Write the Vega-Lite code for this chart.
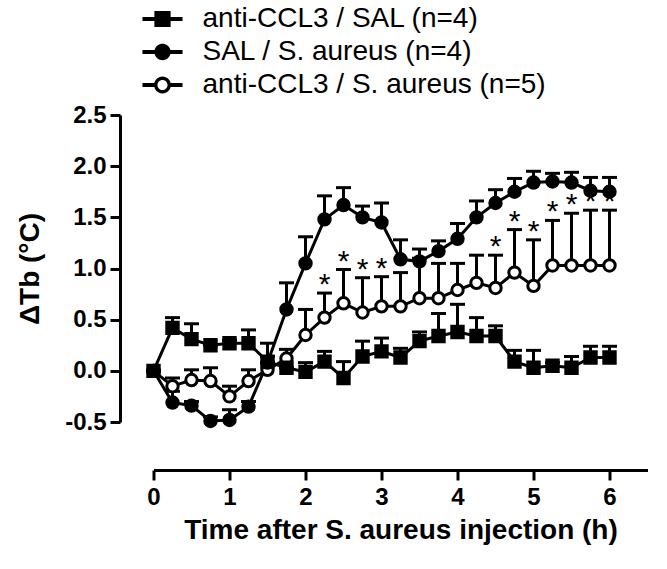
{
  "$schema": "https://vega.github.io/schema/vega-lite/v6.json",
  "width": 494,
  "height": 307,
  "autosize": {"type": "none"},
  "padding": {"left": 153.5, "top": 115, "right": 19.5, "bottom": 147},
  "background": "white",
  "config": {
    "view": {"stroke": null},
    "font": "Arial, Liberation Sans, sans-serif",
    "axis": {
      "grid": false,
      "domainColor": "black",
      "domainWidth": 3,
      "tickColor": "black",
      "tickWidth": 3,
      "tickSize": 10,
      "labelColor": "black",
      "labelFont": "Arial, Liberation Sans, sans-serif",
      "labelFontSize": 24,
      "labelFontWeight": "bold",
      "titleColor": "black",
      "titleFont": "Arial, Liberation Sans, sans-serif",
      "titleFontSize": 28,
      "titleFontWeight": "bold"
    },
    "axisX": {"offset": 48, "labelPadding": 5, "titlePadding": 7, "labelFlush": false},
    "axisY": {"offset": 33.5, "labelPadding": 4, "titlePadding": 20, "labelFlush": false}
  },
  "data": {
    "values": [
      {"t": 0, "group": "anti-CCL3 / S. aureus (n=5)", "mean": 0, "upper": 0, "sig": ""},
      {"t": 0.25, "group": "anti-CCL3 / S. aureus (n=5)", "mean": -0.15, "upper": -0.07, "sig": ""},
      {"t": 0.5, "group": "anti-CCL3 / S. aureus (n=5)", "mean": -0.09, "upper": 0.01, "sig": ""},
      {"t": 0.75, "group": "anti-CCL3 / S. aureus (n=5)", "mean": -0.1, "upper": 0.03, "sig": ""},
      {"t": 1, "group": "anti-CCL3 / S. aureus (n=5)", "mean": -0.25, "upper": -0.15, "sig": ""},
      {"t": 1.25, "group": "anti-CCL3 / S. aureus (n=5)", "mean": -0.1, "upper": 0.01, "sig": ""},
      {"t": 1.5, "group": "anti-CCL3 / S. aureus (n=5)", "mean": 0.01, "upper": 0.08, "sig": ""},
      {"t": 1.75, "group": "anti-CCL3 / S. aureus (n=5)", "mean": 0.12, "upper": 0.21, "sig": ""},
      {"t": 2, "group": "anti-CCL3 / S. aureus (n=5)", "mean": 0.35, "upper": 0.6, "sig": ""},
      {"t": 2.25, "group": "anti-CCL3 / S. aureus (n=5)", "mean": 0.52, "upper": 0.76, "sig": "*"},
      {"t": 2.5, "group": "anti-CCL3 / S. aureus (n=5)", "mean": 0.66, "upper": 0.99, "sig": "*"},
      {"t": 2.75, "group": "anti-CCL3 / S. aureus (n=5)", "mean": 0.57, "upper": 0.91, "sig": "*"},
      {"t": 3, "group": "anti-CCL3 / S. aureus (n=5)", "mean": 0.63, "upper": 0.92, "sig": "*"},
      {"t": 3.25, "group": "anti-CCL3 / S. aureus (n=5)", "mean": 0.63, "upper": 0.96, "sig": ""},
      {"t": 3.5, "group": "anti-CCL3 / S. aureus (n=5)", "mean": 0.71, "upper": 1.1, "sig": ""},
      {"t": 3.75, "group": "anti-CCL3 / S. aureus (n=5)", "mean": 0.71, "upper": 1.05, "sig": ""},
      {"t": 4, "group": "anti-CCL3 / S. aureus (n=5)", "mean": 0.79, "upper": 1.05, "sig": ""},
      {"t": 4.25, "group": "anti-CCL3 / S. aureus (n=5)", "mean": 0.86, "upper": 1.13, "sig": ""},
      {"t": 4.5, "group": "anti-CCL3 / S. aureus (n=5)", "mean": 0.81, "upper": 1.13, "sig": "*"},
      {"t": 4.75, "group": "anti-CCL3 / S. aureus (n=5)", "mean": 0.96, "upper": 1.38, "sig": "*"},
      {"t": 5, "group": "anti-CCL3 / S. aureus (n=5)", "mean": 0.83, "upper": 1.28, "sig": "*"},
      {"t": 5.25, "group": "anti-CCL3 / S. aureus (n=5)", "mean": 1.03, "upper": 1.47, "sig": "*"},
      {"t": 5.5, "group": "anti-CCL3 / S. aureus (n=5)", "mean": 1.03, "upper": 1.54, "sig": "*"},
      {"t": 5.75, "group": "anti-CCL3 / S. aureus (n=5)", "mean": 1.03, "upper": 1.57, "sig": "*"},
      {"t": 6, "group": "anti-CCL3 / S. aureus (n=5)", "mean": 1.03, "upper": 1.57, "sig": "*"},

      {"t": 0, "group": "anti-CCL3 / SAL (n=4)", "mean": 0, "upper": 0, "sig": ""},
      {"t": 0.25, "group": "anti-CCL3 / SAL (n=4)", "mean": 0.42, "upper": 0.52, "sig": ""},
      {"t": 0.5, "group": "anti-CCL3 / SAL (n=4)", "mean": 0.31, "upper": 0.46, "sig": ""},
      {"t": 0.75, "group": "anti-CCL3 / SAL (n=4)", "mean": 0.25, "upper": 0.25, "sig": ""},
      {"t": 1, "group": "anti-CCL3 / SAL (n=4)", "mean": 0.27, "upper": 0.3, "sig": ""},
      {"t": 1.25, "group": "anti-CCL3 / SAL (n=4)", "mean": 0.27, "upper": 0.4, "sig": ""},
      {"t": 1.5, "group": "anti-CCL3 / SAL (n=4)", "mean": 0.09, "upper": 0.27, "sig": ""},
      {"t": 1.75, "group": "anti-CCL3 / SAL (n=4)", "mean": 0.03, "upper": 0.03, "sig": ""},
      {"t": 2, "group": "anti-CCL3 / SAL (n=4)", "mean": -0.01, "upper": 0.08, "sig": ""},
      {"t": 2.25, "group": "anti-CCL3 / SAL (n=4)", "mean": 0.09, "upper": 0.19, "sig": ""},
      {"t": 2.5, "group": "anti-CCL3 / SAL (n=4)", "mean": -0.07, "upper": 0.09, "sig": ""},
      {"t": 2.75, "group": "anti-CCL3 / SAL (n=4)", "mean": 0.14, "upper": 0.29, "sig": ""},
      {"t": 3, "group": "anti-CCL3 / SAL (n=4)", "mean": 0.19, "upper": 0.32, "sig": ""},
      {"t": 3.25, "group": "anti-CCL3 / SAL (n=4)", "mean": 0.13, "upper": 0.22, "sig": ""},
      {"t": 3.5, "group": "anti-CCL3 / SAL (n=4)", "mean": 0.29, "upper": 0.38, "sig": ""},
      {"t": 3.75, "group": "anti-CCL3 / SAL (n=4)", "mean": 0.34, "upper": 0.56, "sig": ""},
      {"t": 4, "group": "anti-CCL3 / SAL (n=4)", "mean": 0.38, "upper": 0.65, "sig": ""},
      {"t": 4.25, "group": "anti-CCL3 / SAL (n=4)", "mean": 0.34, "upper": 0.52, "sig": ""},
      {"t": 4.5, "group": "anti-CCL3 / SAL (n=4)", "mean": 0.34, "upper": 0.44, "sig": ""},
      {"t": 4.75, "group": "anti-CCL3 / SAL (n=4)", "mean": 0.09, "upper": 0.2, "sig": ""},
      {"t": 5, "group": "anti-CCL3 / SAL (n=4)", "mean": 0.03, "upper": 0.2, "sig": ""},
      {"t": 5.25, "group": "anti-CCL3 / SAL (n=4)", "mean": 0.05, "upper": 0.08, "sig": ""},
      {"t": 5.5, "group": "anti-CCL3 / SAL (n=4)", "mean": 0.03, "upper": 0.14, "sig": ""},
      {"t": 5.75, "group": "anti-CCL3 / SAL (n=4)", "mean": 0.13, "upper": 0.24, "sig": ""},
      {"t": 6, "group": "anti-CCL3 / SAL (n=4)", "mean": 0.13, "upper": 0.24, "sig": ""},

      {"t": 0, "group": "SAL / S. aureus (n=4)", "mean": 0, "upper": 0, "sig": ""},
      {"t": 0.25, "group": "SAL / S. aureus (n=4)", "mean": -0.31, "upper": -0.2, "sig": ""},
      {"t": 0.5, "group": "SAL / S. aureus (n=4)", "mean": -0.34, "upper": -0.3, "sig": ""},
      {"t": 0.75, "group": "SAL / S. aureus (n=4)", "mean": -0.49, "upper": -0.45, "sig": ""},
      {"t": 1, "group": "SAL / S. aureus (n=4)", "mean": -0.48, "upper": -0.38, "sig": ""},
      {"t": 1.25, "group": "SAL / S. aureus (n=4)", "mean": -0.35, "upper": -0.3, "sig": ""},
      {"t": 1.5, "group": "SAL / S. aureus (n=4)", "mean": 0.08, "upper": 0.14, "sig": ""},
      {"t": 1.75, "group": "SAL / S. aureus (n=4)", "mean": 0.6, "upper": 0.86, "sig": ""},
      {"t": 2, "group": "SAL / S. aureus (n=4)", "mean": 1.05, "upper": 1.31, "sig": ""},
      {"t": 2.25, "group": "SAL / S. aureus (n=4)", "mean": 1.48, "upper": 1.71, "sig": ""},
      {"t": 2.5, "group": "SAL / S. aureus (n=4)", "mean": 1.62, "upper": 1.79, "sig": ""},
      {"t": 2.75, "group": "SAL / S. aureus (n=4)", "mean": 1.5, "upper": 1.61, "sig": ""},
      {"t": 3, "group": "SAL / S. aureus (n=4)", "mean": 1.45, "upper": 1.64, "sig": ""},
      {"t": 3.25, "group": "SAL / S. aureus (n=4)", "mean": 1.09, "upper": 1.28, "sig": ""},
      {"t": 3.5, "group": "SAL / S. aureus (n=4)", "mean": 1.07, "upper": 1.19, "sig": ""},
      {"t": 3.75, "group": "SAL / S. aureus (n=4)", "mean": 1.17, "upper": 1.27, "sig": ""},
      {"t": 4, "group": "SAL / S. aureus (n=4)", "mean": 1.29, "upper": 1.44, "sig": ""},
      {"t": 4.25, "group": "SAL / S. aureus (n=4)", "mean": 1.5, "upper": 1.66, "sig": ""},
      {"t": 4.5, "group": "SAL / S. aureus (n=4)", "mean": 1.64, "upper": 1.77, "sig": ""},
      {"t": 4.75, "group": "SAL / S. aureus (n=4)", "mean": 1.75, "upper": 1.88, "sig": ""},
      {"t": 5, "group": "SAL / S. aureus (n=4)", "mean": 1.84, "upper": 1.95, "sig": ""},
      {"t": 5.25, "group": "SAL / S. aureus (n=4)", "mean": 1.85, "upper": 1.93, "sig": ""},
      {"t": 5.5, "group": "SAL / S. aureus (n=4)", "mean": 1.84, "upper": 1.94, "sig": ""},
      {"t": 5.75, "group": "SAL / S. aureus (n=4)", "mean": 1.76, "upper": 1.89, "sig": ""},
      {"t": 6, "group": "SAL / S. aureus (n=4)", "mean": 1.75, "upper": 1.89, "sig": ""}
    ]
  },
  "encoding": {
    "x": {
      "field": "t",
      "type": "quantitative",
      "scale": {"domain": [0, 6.5], "nice": false, "zero": false},
      "axis": {"values": [0, 1, 2, 3, 4, 5, 6], "format": "d", "title": "Time after S. aureus injection (h)"}
    }
  },
  "resolve": {"scale": {"shape": "independent", "fill": "independent"}, "legend": {"shape": "independent", "fill": "independent"}},
  "layer": [
    {
      "mark": {"type": "rule", "color": "black", "strokeWidth": 3},
      "encoding": {
        "y": {
          "field": "mean",
          "type": "quantitative",
          "scale": {"domain": [-0.5, 2.5], "nice": false, "zero": false},
          "axis": {"values": [-0.5, 0, 0.5, 1, 1.5, 2, 2.5], "labelExpr": "replace(format(datum.value, '.1f'), '\u2212', '-')", "title": "ΔTb (°C)"}
        },
        "y2": {"field": "upper"}
      }
    },
    {
      "mark": {"type": "tick", "orient": "horizontal", "color": "black", "size": 15, "thickness": 3, "opacity": 1},
      "encoding": {
        "y": {"field": "upper", "type": "quantitative", "title": "ΔTb (°C)"}
      }
    },
    {
      "mark": {"type": "line", "color": "black", "strokeWidth": 3},
      "encoding": {
        "y": {"field": "mean", "type": "quantitative", "title": "ΔTb (°C)"},
        "detail": {"field": "group", "type": "nominal"}
      }
    },
    {
      "mark": {"type": "point", "filled": true, "color": "black", "opacity": 0},
      "encoding": {
        "y": {"field": "mean", "type": "quantitative", "title": "ΔTb (°C)"},
        "shape": {
          "field": "group",
          "type": "nominal",
          "scale": {
            "domain": ["anti-CCL3 / SAL (n=4)", "SAL / S. aureus (n=4)", "anti-CCL3 / S. aureus (n=5)"],
            "range": [
              "M-1.43,-0.14H-0.58V-0.58H0.58V-0.14H1.43V0.14H0.58V0.58H-0.58V0.14H-1.43Z",
              "M-1.43,-0.14H-0.563A0.58,0.58 0 0 1 0.563,-0.14H1.43V0.14H0.563A0.58,0.58 0 0 1 -0.563,0.14H-1.43Z",
              "M-1.43,-0.14H-0.58V0.14H-1.43Z M0.58,-0.14H1.43V0.14H0.58Z M-0.6,0A0.6,0.6 0 1 1 0.6,0A0.6,0.6 0 1 1 -0.6,0Z M-0.36,0A0.36,0.36 0 1 0 0.36,0A0.36,0.36 0 1 0 -0.36,0Z"
            ]
          },
          "legend": {
            "title": null,
            "orient": "none",
            "legendX": -5,
            "legendY": -110,
            "padding": 0,
            "symbolSize": 784,
            "symbolOpacity": 1,
            "symbolFillColor": "black",
            "symbolStrokeWidth": 0,
            "labelFont": "Arial, Liberation Sans, sans-serif",
            "labelFontSize": 28,
            "labelFontWeight": "normal",
            "labelColor": "black",
            "labelOffset": 26,
            "labelLimit": 500,
            "rowPadding": 5
          }
        }
      }
    },
    {
      "mark": {"type": "point", "filled": false, "stroke": "black", "strokeWidth": 3, "opacity": 1, "size": 130},
      "encoding": {
        "y": {"field": "mean", "type": "quantitative", "title": "ΔTb (°C)"},
        "shape": {
          "field": "group",
          "type": "nominal",
          "scale": {
            "domain": ["anti-CCL3 / SAL (n=4)", "SAL / S. aureus (n=4)", "anti-CCL3 / S. aureus (n=5)"],
            "range": ["square", "circle", "circle"]
          },
          "legend": null
        },
        "fill": {
          "field": "group",
          "type": "nominal",
          "scale": {
            "domain": ["anti-CCL3 / SAL (n=4)", "SAL / S. aureus (n=4)", "anti-CCL3 / S. aureus (n=5)"],
            "range": ["black", "black", "white"]
          },
          "legend": null
        }
      }
    },
    {
      "transform": [{"filter": "datum.sig === '*'"}],
      "mark": {"type": "text", "baseline": "alphabetic", "dy": 1, "fontSize": 30, "color": "black", "font": "Arial, Liberation Sans, sans-serif"},
      "encoding": {
        "y": {"field": "upper", "type": "quantitative", "title": "ΔTb (°C)"},
        "text": {"field": "sig", "type": "nominal"}
      }
    }
  ]
}
